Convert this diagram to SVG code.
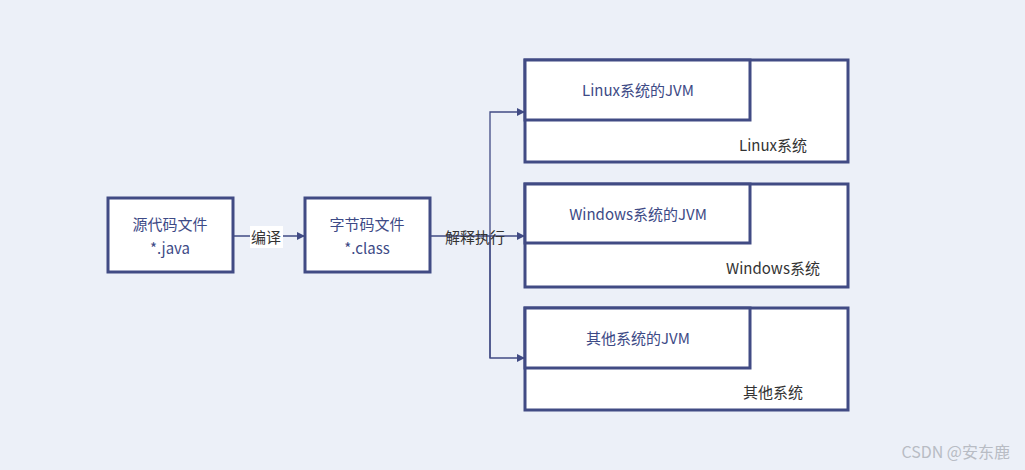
<svg xmlns="http://www.w3.org/2000/svg" width="1025" height="470" viewBox="0 0 1025 470">
<style>
.b{fill:#fff;stroke:#414b84;stroke-width:3}
.c{fill:none;stroke:#414b84;stroke-width:1.3}
text{font-family:"Noto Sans CJK SC","Liberation Sans",sans-serif;font-size:15px;text-anchor:middle}
.n{fill:#3d4a86}
.l{fill:#333}
</style>
<defs><marker id="a" markerWidth="8" markerHeight="8" refX="7" refY="4" orient="auto" markerUnits="userSpaceOnUse"><path d="M0,0L8,4L0,8z" fill="#414b84"/></marker></defs>
<rect width="1025" height="470" fill="#ecf0f8"/>
<g id="connectors">
<path class="c" d="M233,236H304" marker-end="url(#a)"/>
<path class="c" d="M430,236H524" marker-end="url(#a)"/>
<path class="c" d="M490,358V112H524" marker-end="url(#a)"/>
<path class="c" d="M490,236V358H524" marker-end="url(#a)"/>
<rect x="250" y="226" width="33" height="22" fill="#fff"/>
<text class="l" x="266" y="243">编译</text>
<text class="l" x="475" y="243">解释执行</text>
</g>
<g id="src"><rect class="b" x="108" y="198" width="125" height="74"/><text class="n" x="170" y="230">源代码文件</text><text class="n" x="170" y="254">*.java</text></g>
<g id="bytecode"><rect class="b" x="305" y="198" width="125" height="74"/><text class="n" x="367" y="230">字节码文件</text><text class="n" x="367" y="254">*.class</text></g>
<g id="linux"><rect class="b" x="525" y="60" width="323" height="102"/><rect class="b" x="525" y="60" width="225" height="60"/><text class="n" x="638" y="96">Linux系统的JVM</text><text class="l" x="773" y="151">Linux系统</text></g>
<g id="windows"><rect class="b" x="525" y="184" width="323" height="103"/><rect class="b" x="525" y="184" width="225" height="59"/><text class="n" x="638" y="220">Windows系统的JVM</text><text class="l" x="773" y="274">Windows系统</text></g>
<g id="other"><rect class="b" x="525" y="308" width="323" height="102"/><rect class="b" x="525" y="308" width="225" height="60"/><text class="n" x="638" y="344">其他系统的JVM</text><text class="l" x="773" y="398">其他系统</text></g>
<text x="1010" y="458" style="text-anchor:end;fill:#b8bcc4;font-size:16px">CSDN @安东鹿</text>
</svg>
